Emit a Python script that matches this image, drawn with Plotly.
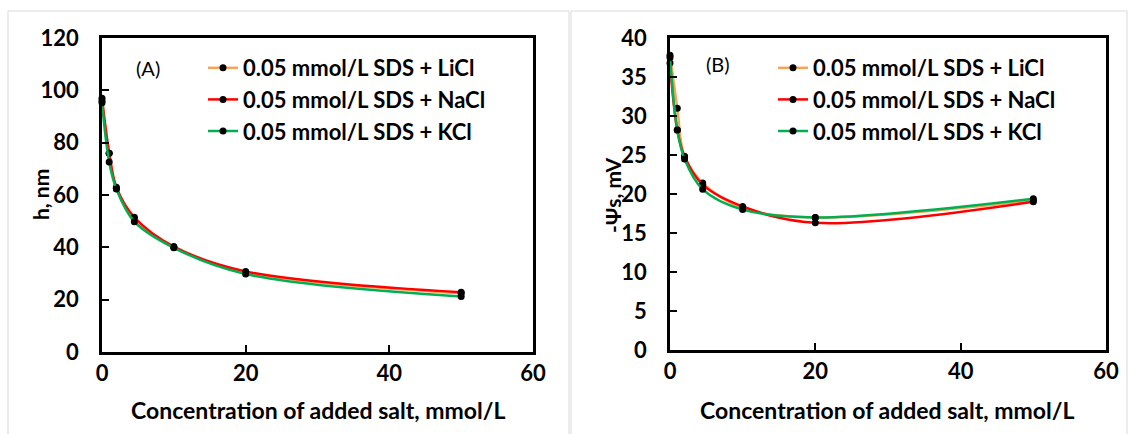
import plotly.graph_objects as go

conc = [0, 1, 2, 4.5, 10, 20, 50]
series_names = ["0.05 mmol/L SDS + LiCl", "0.05 mmol/L SDS + NaCl", "0.05 mmol/L SDS + KCl"]
colors = ["#F7A35C", "#FF0000", "#00B050"]

h_licl = [96.0, 76.0, 62.5, 51.0, 40.0, 30.5, 22.5]
h_nacl = [97.0, 76.0, 63.0, 51.5, 40.3, 30.8, 22.8]
h_kcl = [95.3, 72.6, 62.3, 49.8, 39.8, 29.8, 21.2]

psi_licl = [37.8, 31.0, 24.8, 21.4, 18.2, 17.0, 19.2]
psi_nacl = [36.8, 28.2, 24.8, 21.2, 18.4, 16.3, 19.0]
psi_kcl = [37.5, 28.2, 24.5, 20.6, 18.0, 17.0, 19.4]

W, H = 1130, 434
FONT = "Lato"

fig = go.Figure()

for name, ys, c in zip(series_names, [h_licl, h_nacl, h_kcl], colors):
    fig.add_trace(go.Scatter(x=conc, y=ys, name=name, mode="lines+markers",
                             line=dict(color=c, width=2.5, shape="spline", smoothing=1),
                             marker=dict(color="black", size=7),
                             xaxis="x", yaxis="y", legend="legend", cliponaxis=False))
for name, ys, c in zip(series_names, [psi_licl, psi_nacl, psi_kcl], colors):
    fig.add_trace(go.Scatter(x=conc, y=ys, name=name, mode="lines+markers",
                             line=dict(color=c, width=2.5, shape="spline", smoothing=1),
                             marker=dict(color="black", size=7),
                             xaxis="x2", yaxis="y2", legend="legend2", cliponaxis=False))

def px(x):
    return x / W

def py(y):
    return 1 - y / H

axis_common = dict(showline=True, linecolor="black", linewidth=2.5, mirror=True,
                   ticks="inside", ticklen=7, tickwidth=2, tickcolor="black",
                   showgrid=False, zeroline=False, automargin=False,
                   tickfont=dict(family=FONT, size=22, color="black", weight="bold"))

fig.update_layout(
    width=W, height=H,
    margin=dict(l=0, r=0, t=0, b=0, autoexpand=False),
    paper_bgcolor="white", plot_bgcolor="white",
    showlegend=True,
    xaxis=dict(domain=[px(102), px(533)], range=[0, 60], dtick=20, anchor="y",
               ticklabelstandoff=0, **axis_common),
    yaxis=dict(domain=[py(352), py(38)], range=[0, 120], dtick=20, anchor="x",
               ticklabelstandoff=16, **axis_common),
    xaxis2=dict(domain=[px(670), px(1106)], range=[0, 60], dtick=20, anchor="y2",
                ticklabelstandoff=0, **axis_common),
    yaxis2=dict(domain=[py(350), py(38)], range=[0, 40], dtick=5, anchor="x2",
                ticklabelstandoff=16, **axis_common),
    legend=dict(x=px(203), y=py(47), xanchor="left", yanchor="top",
                font=dict(family=FONT, size=22, color="black", weight="bold"),
                bgcolor="rgba(0,0,0,0)", itemwidth=30, tracegroupgap=0),
    legend2=dict(x=px(773), y=py(47), xanchor="left", yanchor="top",
                 font=dict(family=FONT, size=22, color="black", weight="bold"),
                 bgcolor="rgba(0,0,0,0)", itemwidth=30, tracegroupgap=0),
)

def ann(text, x, y, size, bold, angle=0):
    return dict(text=text, x=px(x), y=py(y), xref="paper", yref="paper", showarrow=False,
                xanchor="center", yanchor="middle", textangle=angle,
                font=dict(family=FONT, size=size, color="black", weight="bold" if bold else "normal"))

annotations = [
    ann("(A)", 148, 68, 20, False),
    ann("(B)", 718, 64, 20, False),
    ann("Concentration of added salt, mmol/L", 318, 410, 23, True),
    ann("Concentration of added salt, mmol/L", 887, 410, 23, True),
    ann("h, nm", 40, 195, 21, True, -90),
    ann("-Ψs, mV", 612, 195, 21, True, -90),
]
fig.update_layout(annotations=annotations)

shapes = [
    dict(type="rect", xref="paper", yref="paper", x0=px(8), x1=px(569), y0=py(440), y1=py(11),
         line=dict(color="#D9D9D9", width=1)),
    dict(type="rect", xref="paper", yref="paper", x0=px(571), x1=px(1127), y0=py(440), y1=py(11),
         line=dict(color="#D9D9D9", width=1)),
]
fig.update_layout(shapes=shapes)

fig.write_html("out.html", config={"displayModeBar": False},
               post_script="document.body.style.margin='0px';")
